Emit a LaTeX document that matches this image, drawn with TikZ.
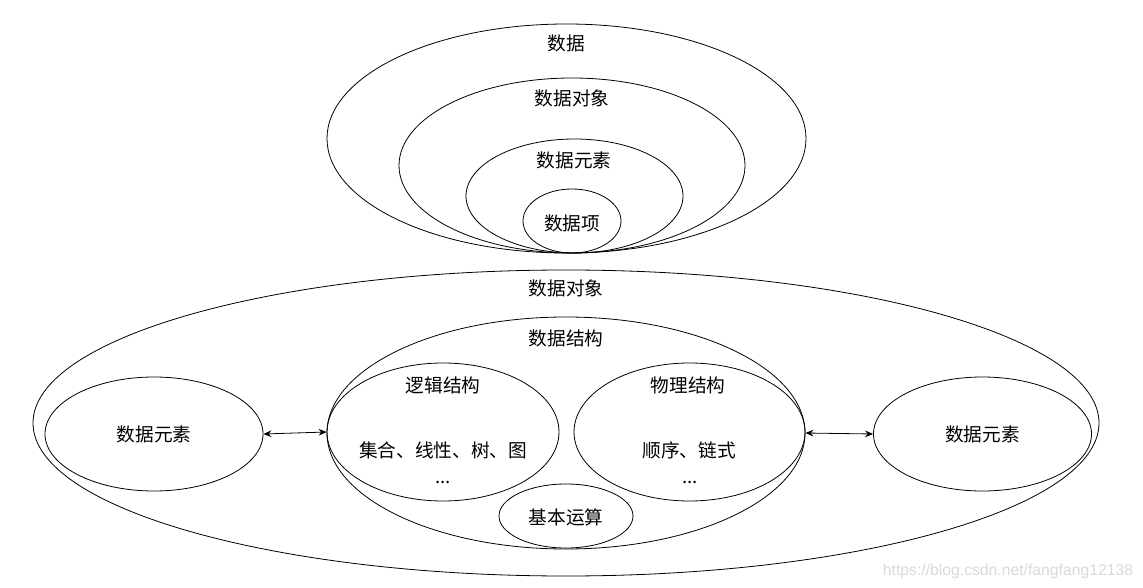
\documentclass[tikz,border=0pt]{standalone}
\usepackage{fontspec}
\setmainfont{Noto Sans CJK SC}
\newfontfamily\urlfont{Liberation Sans}
\usetikzlibrary{shapes.geometric,arrows.meta}

\begin{document}
\begin{tikzpicture}[
	x=0.75pt, y=-0.75pt,
	ring/.style={ ellipse, draw, line width=0.6pt, inner sep=0pt },
	word/.style={ inner sep=0pt, font=\fontsize{14}{16}\selectfont },
	link/.style={ {Stealth[length=6pt,width=5pt]}-{Stealth[length=6pt,width=5pt]}, line width=0.6pt }
]
\useasboundingbox (0,0) rectangle (1143,588);

% upper nest
\node at (566.5,138.5) (data) [ring,minimum width=359.25pt,minimum height=171.75pt] {};
\node at (566,43) (tData) [word] {数据};
\node at (572,165.5) (obj) [ring,minimum width=259.5pt,minimum height=131.25pt] {};
\node at (572,98) (tObj) [word] {数据对象};
\node at (574.5,196) (elem) [ring,minimum width=162.75pt,minimum height=85.5pt] {};
\node at (574,160) (tElem) [word] {数据元素};
\node at (572,221) (item) [ring,minimum width=73.5pt,minimum height=48pt] {};
\node at (572,223) (tItem) [word] {数据项};

% lower part
\node at (566,423) (objB) [ring,minimum width=799.5pt,minimum height=229.5pt] {};
\node at (566,288) (tObjB) [word] {数据对象};
\node at (566,433) (struct) [ring,minimum width=358.5pt,minimum height=174pt] {};
\node at (566,338) (tStruct) [word] {数据结构};
\node at (154,434) (elemL) [ring,minimum width=163.5pt,minimum height=85.5pt] {};
\node at (154,434) (tElemL) [word] {数据元素};
\node at (982.5,434) (elemR) [ring,minimum width=163.5pt,minimum height=85.5pt] {};
\node at (982.5,434) (tElemR) [word] {数据元素};
\node at (443,432) (logic) [ring,minimum width=174pt,minimum height=103.5pt] {};
\node at (443,385) (tLogic) [word] {逻辑结构};
\node at (443,450) (tLogicA) [word] {集合、线性、树、图};
\node at (443,482) (tLogicB) [word] {...};
\node at (689.5,432) (phys) [ring,minimum width=173.25pt,minimum height=103.5pt] {};
\node at (688,385) (tPhys) [word] {物理结构};
\node at (689,450) (tPhysA) [word] {顺序、链式};
\node at (690,482) (tPhysB) [word] {...};
\node at (566,516) (calc) [ring,minimum width=100.5pt,minimum height=48pt] {};
\node at (566,517) (tCalc) [word] {基本运算};

\draw[link] (elemL.east) -- (logic.west);
\draw[link] (struct.east) -- (elemR.west);

\node at (1008,571) (mark) [inner sep=0pt,text=black!15,font=\urlfont\fontsize{11.8}{13}\selectfont] {https://blog.csdn.net/fangfang12138};

\end{tikzpicture}
\end{document}
